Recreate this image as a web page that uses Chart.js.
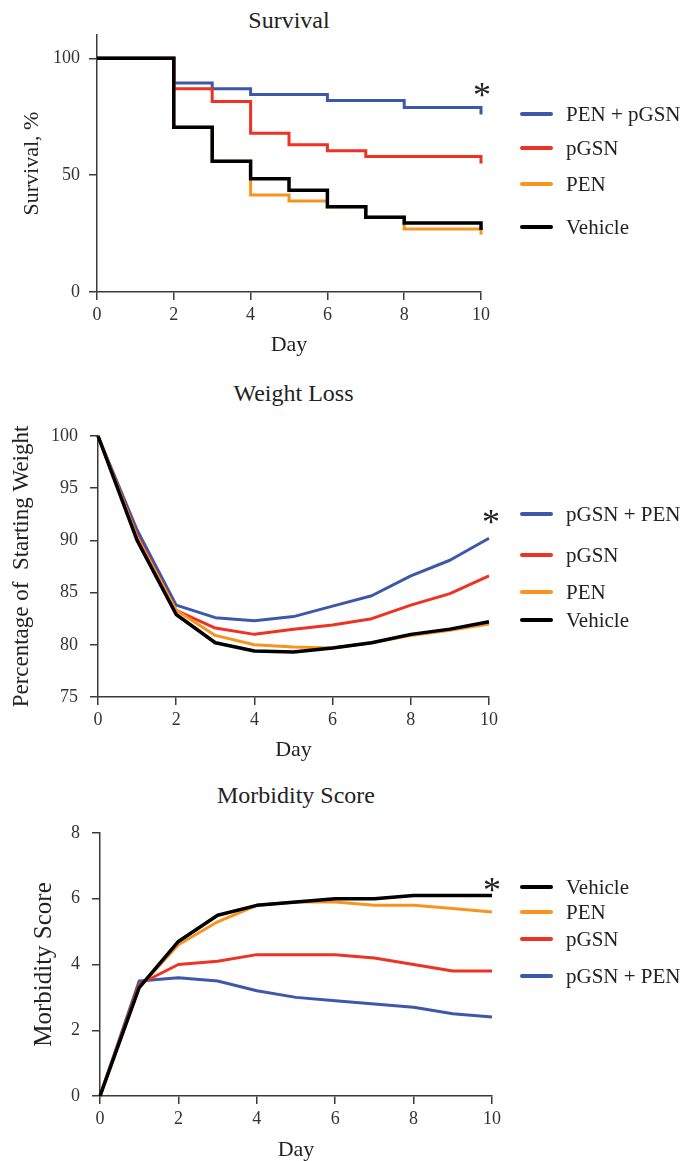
<!DOCTYPE html>
<html lang="en">
<head>
<meta charset="UTF-8">
<title>Survival, Weight Loss, Morbidity Score</title>
<script src="https://cdn.jsdelivr.net/npm/chart.js"></script>
<style>
  body { margin: 0; background: #fff; width: 685px; height: 1161px; overflow: hidden; position: relative; font-family: 'Liberation Serif', 'DejaVu Serif', 'Times New Roman', serif; color: #222; }
  canvas { position: absolute; left: 0; }
  .title { position: absolute; font-size: 24px; text-align: center; line-height: 24px; }
  .leg { position: absolute; left: 520px; display: flex; align-items: center; height: 24px; font-size: 21px; white-space: nowrap; }
  .leg span.sw { display: inline-block; width: 33px; height: 3.5px; border-radius: 2px; margin-right: 13px; }
  .star { position: absolute; font-size: 36px; line-height: 36px; width: 30px; text-align: center; }
</style>
</head>
<body>
<div class="title" style="left:97px; width:384px; top:8px;">Survival</div>
<div class="title" style="left:98px; width:391px; top:381px;">Weight Loss</div>
<div class="title" style="left:100px; width:392px; top:783px;">Morbidity Score</div>

<canvas id="c1" width="685" height="370" style="top:0px"></canvas>
<canvas id="c2" width="685" height="400" style="top:370px"></canvas>
<canvas id="c3" width="685" height="391" style="top:770px"></canvas>

<div id="legends"></div>

<div class="star" style="left:467px; top:77px;">*</div>
<div class="star" style="left:476px; top:504px;">*</div>
<div class="star" style="left:477px; top:872px;">*</div>

<script>
// ---- data ----
const days = [0, 1, 2, 3, 4, 5, 6, 7, 8, 9, 10];
const dayTicks = [0, 2, 4, 6, 8, 10];

// Survival (%)
const survivalTicks = [0, 50, 100];
const survPenPgsn = [100, 100, 89.5, 87, 84.5, 84.5, 82, 82, 79, 79, 76];
const survPgsn    = [100, 100, 87, 81.5, 68, 63, 60.5, 58, 58, 58, 55];
const survPen     = [100, 100, 70.5, 56, 41.5, 39, 36.5, 32, 27, 27, 24.5];
const survVehicle = [100, 100, 70.5, 56, 48.5, 43.5, 36.5, 32, 29.5, 29.5, 26.5];

// Weight loss (% of starting weight)
const weightTicks = [75, 80, 85, 90, 95, 100];
const wtPgsnPen = [100, 91, 83.8, 82.6, 82.3, 82.7, 83.7, 84.7, 86.6, 88.1, 90.2];
const wtPgsn    = [100, 90.5, 83.3, 81.6, 81.0, 81.5, 81.9, 82.5, 83.8, 84.9, 86.6];
const wtPen     = [100, 90.3, 83.3, 80.9, 80.0, 79.8, 79.7, 80.2, 80.9, 81.4, 82.0];
const wtVehicle = [100, 90.0, 82.9, 80.2, 79.4, 79.3, 79.7, 80.2, 81.0, 81.5, 82.2];

// Morbidity score
const morbTicks = [0, 2, 4, 6, 8];
const mbVehicle = [0, 3.3, 4.7, 5.5, 5.8, 5.9, 6.0, 6.0, 6.1, 6.1, 6.1];
const mbPen     = [0, 3.3, 4.6, 5.3, 5.8, 5.9, 5.9, 5.8, 5.8, 5.7, 5.6];
const mbPgsn    = [0, 3.4, 4.0, 4.1, 4.3, 4.3, 4.3, 4.2, 4.0, 3.8, 3.8];
const mbPgsnPen = [0, 3.5, 3.6, 3.5, 3.2, 3.0, 2.9, 2.8, 2.7, 2.5, 2.4];

const BLUE = '#3d58a8', RED = '#ee3224', ORANGE = '#f7941d', BLACK = '#000000';
const AXIS = '#3a3a3a';

Chart.defaults.font.family = "'Liberation Serif', 'DejaVu Serif', 'Times New Roman', serif";
Chart.defaults.color = '#333';

const pts = vals => days.map((d, i) => ({ x: d, y: vals[i] }));

function ds(label, vals, color, order, extra) {
    return Object.assign({
        label: label,
        data: pts(vals),
        borderColor: color,
        backgroundColor: color,
        borderWidth: color === BLACK ? 3.5 : 3,
        pointRadius: 0,
        fill: false,
        order: order,
        borderJoinStyle: 'round',
        clip: 4
    }, extra || {});
}

function axisOpts(cfg) {
    const grid = { display: true, drawOnChartArea: false, drawTicks: true, tickLength: 8, color: AXIS, lineWidth: 1.5 };
    const border = { display: true, color: AXIS, width: 1.5 };
    return {
        x: {
            type: 'linear', min: 0, max: 10,
            grid: grid, border: border,
            afterBuildTicks: s => { s.ticks = dayTicks.map(v => ({ value: v })); },
            afterFit: s => { s.height = cfg.xHeight; },
            ticks: { font: { size: 18 }, padding: 4, maxRotation: 0 },
            title: { display: true, text: 'Day', font: { size: 22, lineHeight: 1 }, color: '#222', padding: { top: 0, bottom: cfg.xTitlePad } }
        },
        y: {
            type: 'linear', min: cfg.yMin, max: cfg.yMax,
            grid: grid, border: border,
            afterBuildTicks: s => { s.ticks = cfg.yTicks.map(v => ({ value: v })); },
            afterFit: s => { s.width = cfg.yWidth; },
            ticks: { font: { size: 18 }, padding: cfg.yTickPad },
            title: { display: true, text: cfg.yTitle, font: { size: cfg.yTitleSize, lineHeight: 1 }, color: '#222', padding: { top: cfg.yTitlePad, bottom: 0 } }
        }
    };
}

function makeChart(id, datasets, cfg) {
    return new Chart(document.getElementById(id), {
        type: 'line',
        data: { datasets: datasets },
        options: {
            responsive: false,
            animation: false,
            layout: { padding: { left: 0, right: cfg.padRight, top: cfg.padTop, bottom: 0 } },
            plugins: { legend: { display: false }, tooltip: { enabled: false } },
            scales: axisOpts(cfg)
        }
    });
}

const step = { stepped: 'before', borderJoinStyle: 'miter', borderCapStyle: 'butt' };

makeChart('c1', [
    ds('PEN + pGSN', survPenPgsn, BLUE, 3, step),
    ds('pGSN', survPgsn, RED, 2, step),
    ds('PEN', survPen, ORANGE, 1, step),
    ds('Vehicle', survVehicle, BLACK, 0, step)
], { padRight: 204, padTop: 35, xHeight: 78, xTitlePad: 14, yWidth: 97, yMin: 0, yMax: 110,
     yTicks: survivalTicks, yTickPad: 9, yTitle: 'Survival, %', yTitleSize: 22, yTitlePad: 21 });

makeChart('c2', [
    ds('pGSN + PEN', wtPgsnPen, BLUE, 3),
    ds('pGSN', wtPgsn, RED, 2),
    ds('PEN', wtPen, ORANGE, 1),
    ds('Vehicle', wtVehicle, BLACK, 0)
], { padRight: 196, padTop: 66, xHeight: 73, xTitlePad: 9, yWidth: 98, yMin: 75, yMax: 100,
     yTicks: weightTicks, yTickPad: 12, yTitle: 'Percentage of  Starting Weight', yTitleSize: 23, yTitlePad: 10 });

makeChart('c3', [
    ds('Vehicle', mbVehicle, BLACK, 0),
    ds('PEN', mbPen, ORANGE, 1),
    ds('pGSN', mbPgsn, RED, 2),
    ds('pGSN + PEN', mbPgsnPen, BLUE, 3)
], { padRight: 193, padTop: 63, xHeight: 65, xTitlePad: 0, yWidth: 100, yMin: 0, yMax: 8,
     yTicks: morbTicks, yTickPad: 12, yTitle: 'Morbidity Score', yTitleSize: 25, yTitlePad: 32 });

// ---- legends (hand placed, as in the figure) ----
const legends = [
    { names: ['PEN + pGSN', 'pGSN', 'PEN', 'Vehicle'], colors: [BLUE, RED, ORANGE, BLACK], ys: [114, 148, 184, 227] },
    { names: ['pGSN + PEN', 'pGSN', 'PEN', 'Vehicle'], colors: [BLUE, RED, ORANGE, BLACK], ys: [514, 555, 592, 620] },
    { names: ['Vehicle', 'PEN', 'pGSN', 'pGSN + PEN'], colors: [BLACK, ORANGE, RED, BLUE], ys: [887, 912, 939, 976] }
];
const holder = document.getElementById('legends');
legends.forEach(l => {
    l.names.forEach((n, i) => {
        const row = document.createElement('div');
        row.className = 'leg';
        row.style.top = (l.ys[i] - 12) + 'px';
        const sw = document.createElement('span');
        sw.className = 'sw';
        sw.style.background = l.colors[i];
        const tx = document.createElement('span');
        tx.textContent = n;
        row.appendChild(sw);
        row.appendChild(tx);
        holder.appendChild(row);
    });
});
</script>
</body>
</html>
